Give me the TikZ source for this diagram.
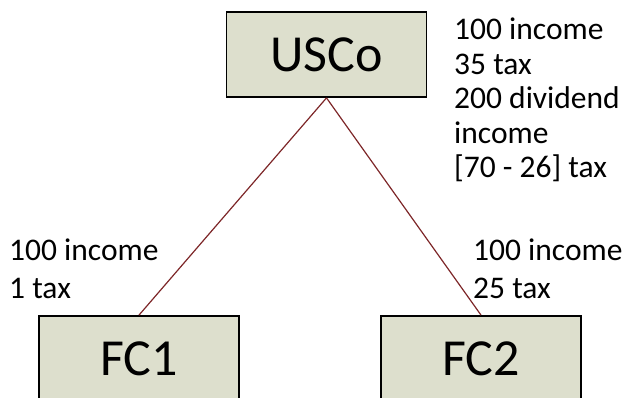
\documentclass[tikz,border=0pt]{standalone}
\usepackage{fontspec}
\setmainfont{Carlito}
\usetikzlibrary{positioning}
\definecolor{boxfill}{RGB}{221,223,205}
\definecolor{linkred}{RGB}{125,38,40}

\begin{document}
\begin{tikzpicture}[
  x=1pt,y=-1pt,
  firm/.style={draw,line width=1.8pt,fill=boxfill,minimum width=200pt,minimum height=85pt,
    inner sep=0pt,font=\fontsize{52}{60}\selectfont},
  note/.style={anchor=north west,inner sep=0pt,align=left,font=\fontsize{31.5}{38}\selectfont},
  link/.style={draw=linkred,line width=1.2pt}
]
\useasboundingbox (0,0) rectangle (629,397);
% ---- parent and subsidiaries ----
\node[firm] (usco) at (326.5,54.5) {USCo};
\node[firm] (fc1)  at (139,358.5)  {FC1};
\node[firm] (fc2)  at (481,358.5)  {FC2};
\draw[link] (usco.south) -- (fc1.north);
\draw[link] (usco.south) -- (fc2.north);

% ---- figures ----
\node[note,font=\fontsize{31.5}{34.5}\selectfont] (uscotax) at (454,18)
  {100 income\\35 tax\\200 dividend\\income\\{[70 - 26] tax}};
\node[note] (fc1tax)  at (9,239)   {100 income\\1 tax};
\node[note] (fc2tax)  at (473,239) {100 income\\25 tax};
\end{tikzpicture}
\end{document}
